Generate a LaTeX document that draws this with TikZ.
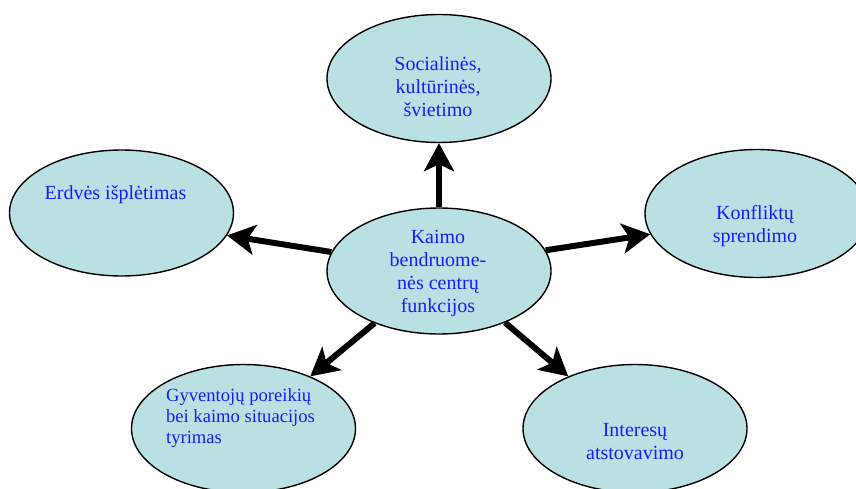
\documentclass[tikz,border=0pt]{standalone}
\usepackage{fontspec}
\setmainfont{Liberation Serif}
\usetikzlibrary{shapes.geometric,arrows.meta}
\definecolor{bubble}{HTML}{B9E0E3}
\definecolor{txt}{HTML}{1A1AFF}
\tikzset{
  bubble/.style={ellipse, draw=black, line width=1.4pt, fill=bubble,
    minimum width=224pt, minimum height=128pt, inner sep=0pt},
  lbl/.style={text=txt, font=\fontsize{20pt}{23pt}\selectfont, align=center, inner sep=0pt},
  arr/.style={line width=6pt, -{Stealth[length=28pt,width=30pt,inset=7pt]}}
}
\begin{document}
\begin{tikzpicture}[x=1pt,y=-1pt]
\useasboundingbox (0,0) rectangle (856,489);
\clip (0,0) rectangle (856,489);
\node[bubble] (t) at (439,78.5) {};
\node[bubble, minimum height=126pt] (c) at (439,271) {};
\node[bubble, minimum height=126pt] (l) at (121.5,213) {};
\node[bubble] (r) at (757,213.5) {};
\node[bubble] (bl) at (243.5,428.5) {};
\node[bubble] (br) at (635,428.5) {};

\node[lbl] (tt) at (438,87) {Socialinės,\\kultūrinės,\\švietimo};
\node[lbl] (ct) at (438,274) {Kaimo\\bendruome-\\nės centrų\\funkcijos};
\node[lbl] (lt) at (115.5,195) {Erdvės išplėtimas};
\node[lbl] (rt) at (755,226) {Konfliktų\\sprendimo};
\node[lbl, align=left, font=\fontsize{18.6pt}{21pt}\selectfont] (blt) at (240.5,418) {Gyventojų poreikių\\bei kaimo situacijos\\tyrimas};
\node[lbl] (brt) at (635,442) {Interesų\\atstovavimo};

\draw[arr] (c.90) -- (t.270);
\draw[arr] (c.170) -- (l.-12);
\draw[arr] (c.11) -- (r.191);
\draw[arr] (c.219) -- (bl.38);
\draw[arr] (c.-38) -- (br.142);
\end{tikzpicture}
\end{document}
